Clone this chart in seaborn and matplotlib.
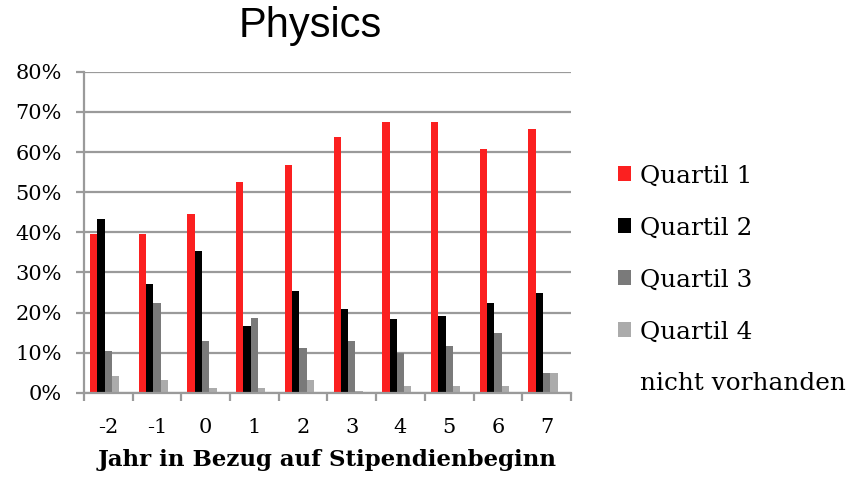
import matplotlib
matplotlib.use("Agg")
import matplotlib.pyplot as plt
import matplotlib.patches as mpatches
import pandas as pd
import seaborn as sns
from matplotlib.ticker import FixedLocator, PercentFormatter

jahre = ["-2", "-1", "0", "1", "2", "3", "4", "5", "6", "7"]
quartil_1 = [39.6, 39.6, 44.5, 52.6, 56.8, 63.7, 67.4, 67.4, 60.7, 65.7]
quartil_2 = [43.3, 27.2, 35.3, 16.7, 25.4, 21.0, 18.5, 19.1, 22.3, 24.8]
quartil_3 = [10.5, 22.3, 13.0, 18.6, 11.1, 13.0, 9.9, 11.7, 14.8, 4.9]
quartil_4 = [4.3, 3.1, 1.2, 1.2, 3.1, 0.5, 1.6, 1.6, 1.6, 4.9]
nicht_vorhanden = [0, 0, 0, 0, 0, 0, 0, 0, 0, 0]

serien = ["Quartil 1", "Quartil 2", "Quartil 3", "Quartil 4", "nicht vorhanden"]
farben = ["#fb2020", "#000000", "#7a7a7a", "#ababab", "#ffffff"]

frames = []
for name, werte in zip(serien, [quartil_1, quartil_2, quartil_3, quartil_4, nicht_vorhanden]):
    frames.append(pd.DataFrame({"Jahr": jahre, "Anteil": werte, "Gruppe": name}))
data = pd.concat(frames)

sns.set_style("white")
plt.rcParams["font.family"] = ["DejaVu Serif"]
plt.rcParams["text.color"] = "black"
plt.rcParams["xtick.labelcolor"] = "black"
plt.rcParams["ytick.labelcolor"] = "black"
plt.rcParams["axes.labelcolor"] = "black"

fig = plt.figure(figsize=(8.56, 4.79), dpi=100)
ax = fig.add_axes([0.098, 0.18, 0.569, 0.67])

sns.barplot(data=data, x="Jahr", y="Anteil", hue="Gruppe", order=jahre,
            hue_order=serien, palette=farben, width=0.75, gap=0,
            saturation=1, edgecolor="none", ax=ax, legend=False)

ax.set_xlim(-0.5, len(jahre) - 0.5)
ax.set_ylim(0, 80)
ax.set_yticks(range(0, 81, 10))
ax.yaxis.set_major_formatter(PercentFormatter(decimals=0))
ax.yaxis.grid(True, color="#9a9a9a", linewidth=1.6)
ax.set_axisbelow(True)

ax.xaxis.set_minor_locator(FixedLocator([i - 0.5 for i in range(len(jahre) + 1)]))
ax.tick_params(axis="x", which="major", length=0, labelsize=15, pad=18)
ax.tick_params(axis="x", which="minor", length=6, width=1.6, color="#9a9a9a", direction="out", bottom=True)
ax.tick_params(axis="y", length=6, width=1.6, color="#9a9a9a", direction="out", left=True, labelsize=15, pad=10)

for side in ["top", "right"]:
    ax.spines[side].set_visible(False)
for side in ["left", "bottom"]:
    ax.spines[side].set_color("#9a9a9a")
    ax.spines[side].set_linewidth(1.6)

ax.set_ylabel("")
ax.set_xlabel("Jahr in Bezug auf Stipendienbeginn", fontsize=16.5, fontweight="bold", labelpad=9)

fig.text(0.362, 0.945, "Physics", ha="center", va="center", fontsize=30,
         family=["Liberation Sans", "DejaVu Sans"])

handles = [mpatches.Patch(facecolor=c, edgecolor="none") for c in farben]
fig.legend(handles, serien, loc="upper left", bbox_to_anchor=(0.71, 0.677),
           frameon=False, fontsize=17.8, handlelength=0.55, handleheight=0.55,
           handletextpad=0.35, labelspacing=1.17, borderaxespad=0)

plt.savefig("out.png", dpi=100)
